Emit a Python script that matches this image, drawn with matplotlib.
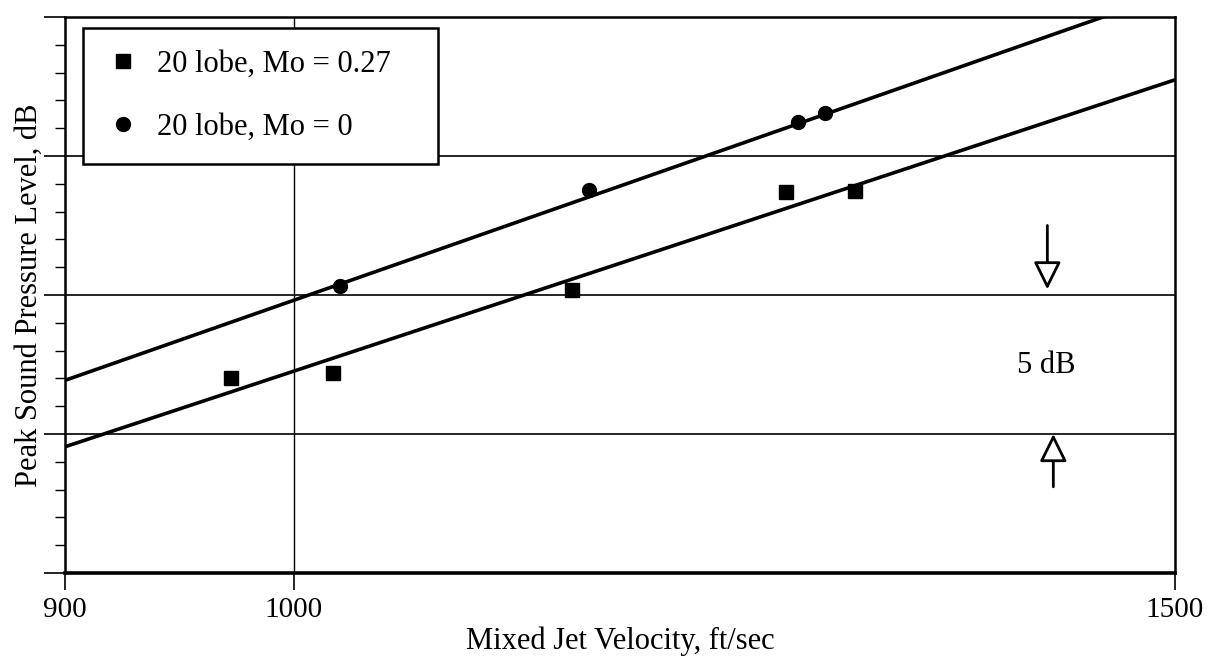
import numpy as np
import matplotlib.pyplot as plt
from matplotlib.ticker import FixedLocator, MultipleLocator, NullFormatter

plt.rcParams['font.family'] = ['Liberation Serif', 'DejaVu Serif']

# 20 lobe nozzle, external Mach number 0.27
sq_velocity = [971.5, 1018, 1136.6, 1254, 1294.6]
sq_level = [7.0, 7.21, 10.18, 13.71, 13.75]

# 20 lobe nozzle, static (Mo = 0)
ci_velocity = [1021.3, 1145.6, 1261, 1276.8]
ci_level = [10.32, 13.79, 16.21, 16.54]

# straight-line fits: level = base + slope * log10(V / 900)
fit_base = [4.54, 6.93]
fit_slope = [59.5, 63.0]

fig = plt.figure(figsize=(12.16, 6.58), dpi=100)
ax = fig.add_axes([0.0535, 0.1292, 0.9128, 0.845])

ax.set_xscale('log')
ax.set_xlim(900, 1500)
ax.set_ylim(0, 20)

v_fit = np.array([900.0, 1500.0])
for base, slope in zip(fit_base, fit_slope):
    ax.plot(v_fit, base + slope * np.log10(v_fit / 900), color='black', lw=2.6,
            zorder=3, solid_capstyle='butt')

ax.plot(sq_velocity, sq_level, 's', color='black', ms=10, ls='none',
        label='20 lobe, Mo = 0.27', zorder=4)
ax.plot(ci_velocity, ci_level, 'o', color='black', ms=10, ls='none',
        label='20 lobe, Mo = 0', zorder=4)

# x ticks
ax.xaxis.set_major_locator(FixedLocator([900, 1000, 1500]))
ax.xaxis.set_minor_locator(FixedLocator([]))
ax.set_xticklabels(['900', '1000', '1500'])
ax.tick_params(axis='x', which='major', length=12, width=1.2, direction='out',
               labelsize=21, pad=5)

# y ticks: unlabelled, 1 dB minor, 5 dB major
ax.yaxis.set_major_locator(MultipleLocator(5))
ax.yaxis.set_minor_locator(MultipleLocator(1))
ax.yaxis.set_major_formatter(NullFormatter())
ax.tick_params(axis='y', which='major', length=15, width=1.2, direction='out')
ax.tick_params(axis='y', which='minor', length=7, width=1.0, direction='out')

# grid at 1000 ft/sec and every 5 dB
for lvl in [5, 10, 15]:
    ax.axhline(lvl, color='black', lw=1.2, zorder=1)
ax.axvline(1000, color='black', lw=1.0, zorder=1)

for side in ['left', 'right', 'top']:
    ax.spines[side].set_linewidth(1.8)
ax.spines['bottom'].set_linewidth(2.6)

ax.set_xlabel('Mixed Jet Velocity, ft/sec', fontsize=22, labelpad=3)
ax.set_ylabel('Peak Sound Pressure Level, dB', fontsize=22)
ax.yaxis.set_label_coords(-0.019, 0.5)

# 5 dB scale indicator
arrow_style = dict(arrowstyle='-|>,head_width=0.42,head_length=0.85',
                   color='black', lw=2.0, fc='white', mutation_scale=20,
                   shrinkA=0, shrinkB=0)
ax.annotate('', xy=(1414.4, 10.2), xytext=(1414.4, 12.5), arrowprops=arrow_style)
ax.annotate('', xy=(1418.3, 5.0), xytext=(1418.3, 3.1), arrowprops=arrow_style)
ax.text(1413.7, 7.45, '5 dB', fontsize=22, ha='center', va='center')

leg = ax.legend(loc='upper left', bbox_to_anchor=(0.0162, 0.98 - 0.23, 0.3198, 0.23),
                mode='expand', fontsize=22, frameon=True, fancybox=False,
                framealpha=1, edgecolor='black', handletextpad=0.5,
                labelspacing=1.1, borderpad=0.72, handlelength=1.2,
                borderaxespad=0)
leg.get_frame().set_linewidth(1.8)
leg.set_zorder(5)

fig.savefig('out.png', dpi=100)
